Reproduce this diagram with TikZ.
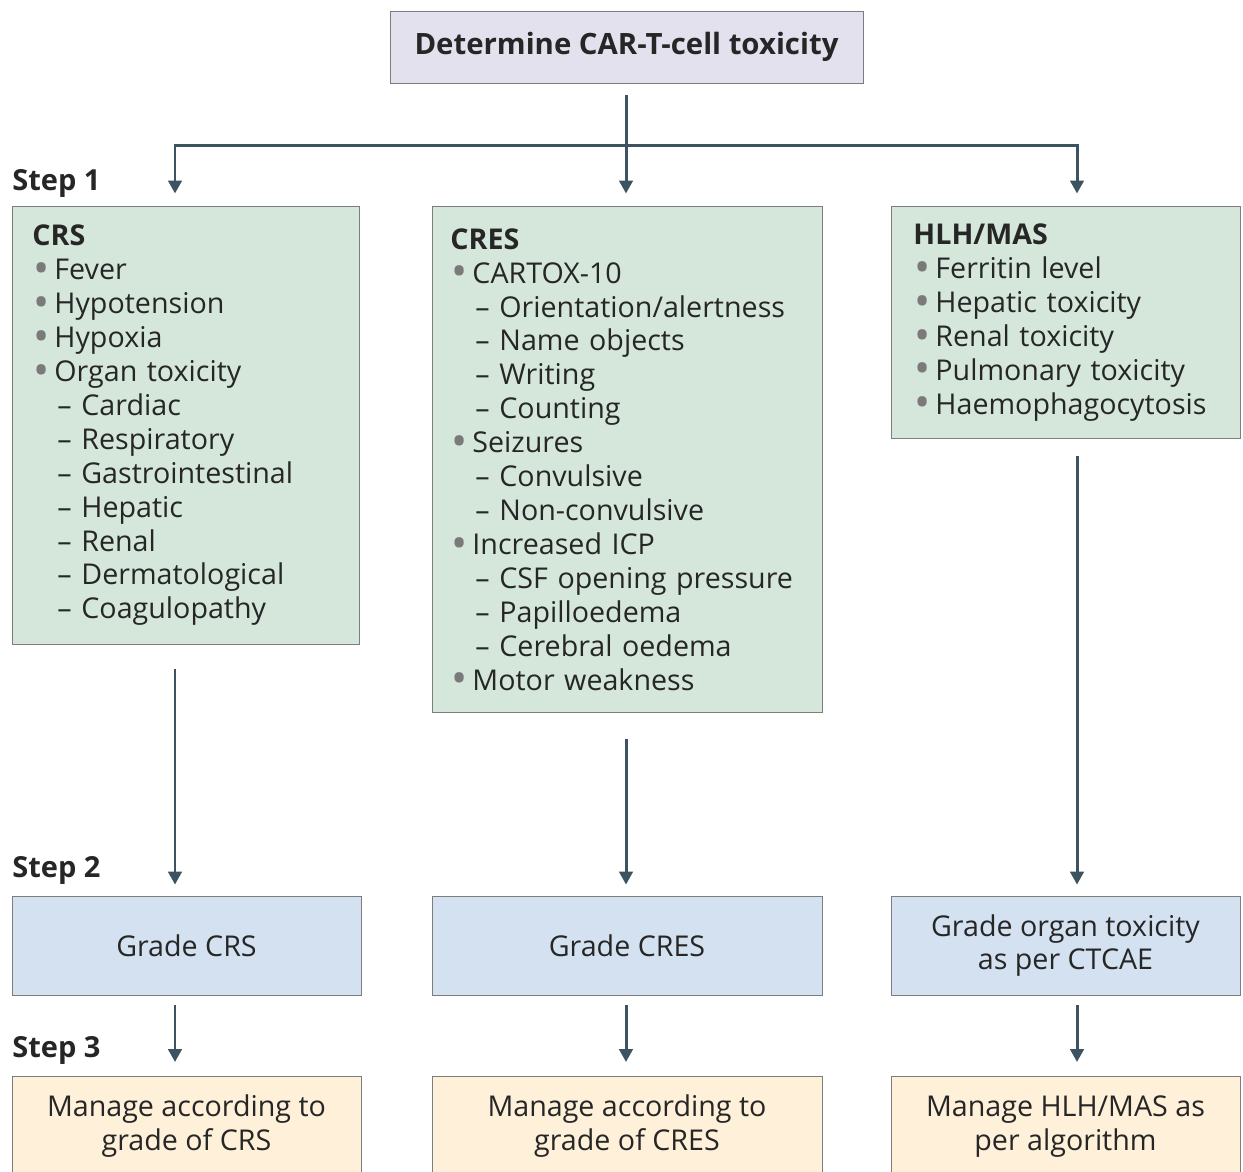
\documentclass[tikz,border=0pt]{standalone}
\usepackage{fontspec}
\setmainfont{Open Sans}
\usetikzlibrary{arrows.meta}

\definecolor{topfill}{HTML}{E3E1EE}
\definecolor{symfill}{HTML}{D4E7DA}
\definecolor{gradefill}{HTML}{D3E1F0}
\definecolor{mgmtfill}{HTML}{FEF0D9}
\definecolor{arrowcol}{HTML}{3D5361}
\definecolor{edgecol}{HTML}{7D7D7D}
\definecolor{dotgray}{HTML}{7A7A7A}

\newcommand\bul[1]{\makebox[0.44cm][l]{\hspace{0.02cm}\raisebox{-0.075cm}[0pt][0pt]{\scalebox{1.5}{\textcolor{dotgray}{\textbullet}}}}#1}
\newcommand\subit[1]{\hspace{0.5cm}\makebox[0.48cm][l]{--}#1}

\begin{document}
\begin{tikzpicture}[x=0.02cm,y=-0.02cm,
  every node/.style={font=\fontsize{16.3}{19.3}\selectfont,text=black!85},
  box/.style={draw=edgecol,line width=0.5pt,inner sep=0pt},
  topbox/.style={box,fill=topfill,minimum width=9.46cm,minimum height=1.44cm,font=\fontsize{16.7}{19}\selectfont\bfseries},
  sym/.style={box,fill=symfill,anchor=north west,align=left,inner xsep=0.4cm},
  grade/.style={box,fill=gradefill,minimum height=1.98cm,align=center},
  mgmt/.style={box,fill=mgmtfill,minimum height=2cm,align=center,anchor=north},
  steplbl/.style={anchor=west,inner sep=0pt,font=\fontsize{16.5}{18}\selectfont\bfseries},
  flow/.style={-{Triangle[length=0.26cm,width=0.27cm]},line width=1.7pt,draw=arrowcol,shorten >=0.25cm}]
\clip (0,0) rectangle (1243,1171);
\useasboundingbox (0,0) rectangle (1243,1171);

% top
\node[topbox] (start) at (626.5,47) {Determine CAR-T-cell toxicity};

% step 1
\node[steplbl] (step1) at (12,183) {Step 1};
\node[sym,text width=6.14cm,minimum height=8.76cm] (crs) at (12,206) {%
  \textbf{CRS}\\
  \bul{Fever}\\
  \bul{Hypotension}\\
  \bul{Hypoxia}\\
  \bul{Organ toxicity}\\
  \subit{Cardiac}\\
  \subit{Respiratory}\\
  \subit{Gastrointestinal}\\
  \subit{Hepatic}\\
  \subit{Renal}\\
  \subit{Dermatological}\\
  \subit{Coagulopathy}};
\node[sym,text width=7.08cm,inner xsep=0.36cm,minimum height=10.12cm] (cres) at (432,206) {%
  \textbf{CRES}\\
  \bul{CARTOX-10}\\
  \subit{Orientation/alertness}\\
  \subit{Name objects}\\
  \subit{Writing}\\
  \subit{Counting}\\
  \bul{Seizures}\\
  \subit{Convulsive}\\
  \subit{Non-convulsive}\\
  \bul{Increased ICP}\\
  \subit{CSF opening pressure}\\
  \subit{Papilloedema}\\
  \subit{Cerebral oedema}\\
  \bul{Motor weakness}};
\node[sym,text width=6.1cm,inner xsep=0.44cm,minimum height=4.64cm] (hlh) at (891,206) {%
  \textbf{HLH/MAS}\\
  \bul{Ferritin level}\\
  \bul{Hepatic toxicity}\\
  \bul{Renal toxicity}\\
  \bul{Pulmonary toxicity}\\
  \bul{Haemophagocytosis}};

% step 2
\node[steplbl] (step2) at (12,870) {Step 2};
\node[grade,minimum width=6.98cm] (gcrs) at (186.5,945.5) {Grade CRS};
\node[grade,minimum width=7.8cm] (gcres) at (627,945.5) {Grade CRES};
\node[grade,minimum width=6.98cm] (ghlh) at (1065.5,945.5) {Grade organ toxicity\\as per CTCAE};

% step 3
\node[steplbl] (step3) at (12,1050) {Step 3};
\node[mgmt,minimum width=6.98cm] (mcrs) at (186.5,1076) {Manage according to\\grade of CRS};
\node[mgmt,minimum width=7.8cm] (mcres) at (627,1076) {Manage according to\\grade of CRES};
\node[mgmt,minimum width=6.98cm] (mhlh) at (1065.5,1076) {Manage HLH/MAS as\\per algorithm};

% arrow columns
\coordinate (lcol) at (175,0);
\coordinate (mcol) at (626,0);
\coordinate (rcol) at (1077,0);
\coordinate (fork) at (626,145);

\draw[flow,shorten <=0.24cm] (start.south -| mcol) -- (cres.north -| mcol);
\draw[flow] (fork) -| (crs.north -| lcol);
\draw[flow] (fork) -| (hlh.north -| rcol);

\draw[flow,shorten <=0.48cm,shorten >=0.22cm] (crs.south -| lcol) -- (gcrs.north -| lcol);
\draw[flow,shorten <=0.52cm,shorten >=0.22cm] (cres.south -| mcol) -- (gcres.north -| mcol);
\draw[flow,shorten <=0.34cm,shorten >=0.22cm] (hlh.south -| rcol) -- (ghlh.north -| rcol);

\draw[flow,shorten <=0.2cm,shorten >=0.28cm] (gcrs.south -| lcol) -- (mcrs.north -| lcol);
\draw[flow,shorten <=0.2cm,shorten >=0.28cm] (gcres.south -| mcol) -- (mcres.north -| mcol);
\draw[flow,shorten <=0.2cm,shorten >=0.28cm] (ghlh.south -| rcol) -- (mhlh.north -| rcol);
\end{tikzpicture}
\end{document}
